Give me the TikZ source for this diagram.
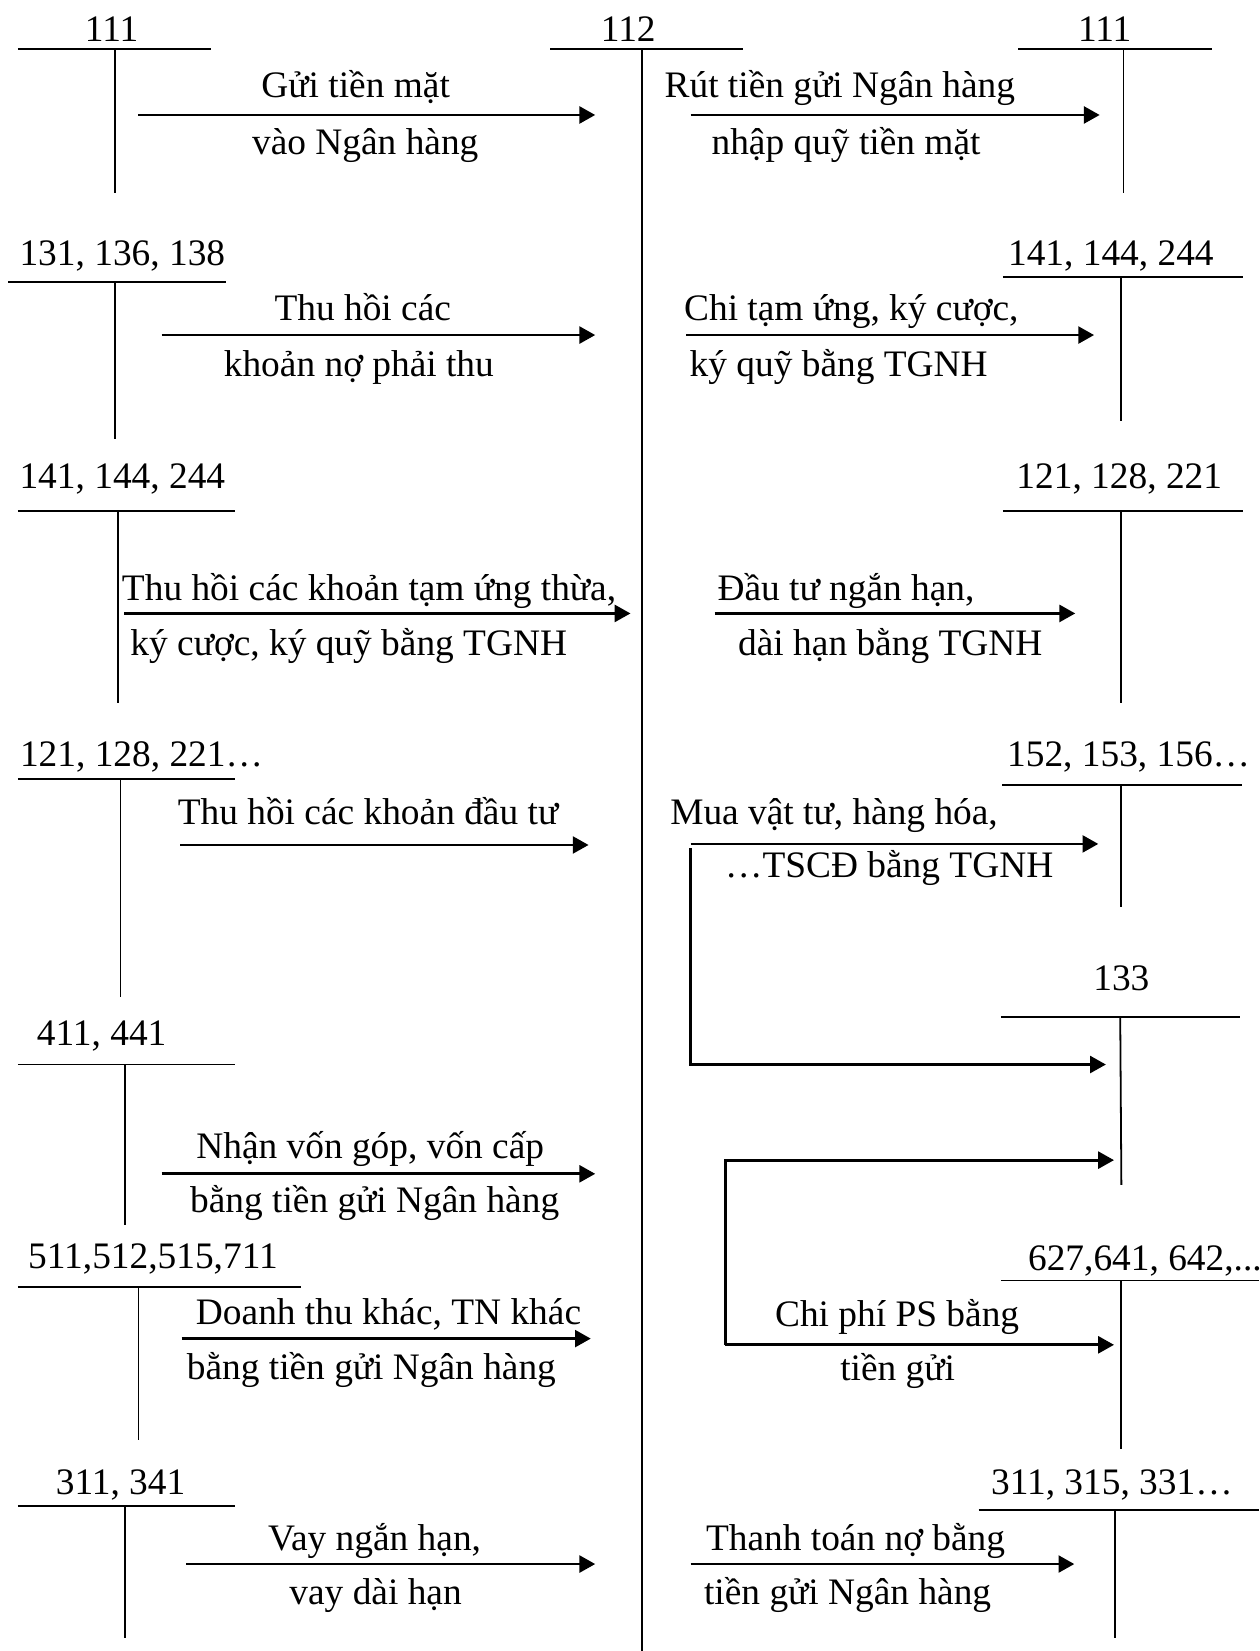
\documentclass[tikz,border=0pt]{standalone}
\usepackage{fontspec}
\setmainfont{Liberation Serif}
\usetikzlibrary{arrows.meta}
\begin{document}
\begin{tikzpicture}[x=1pt,y=-1pt,
  tline/.style={line width=1.7pt},
  mline/.style={line width=2.1pt},
  flow/.style={line width=2.7pt,-{Triangle[length=15pt,width=16pt]}},
  lbl/.style={anchor=base,inner sep=0pt,outer sep=0pt,font=\fontsize{35.5}{40}\selectfont},
  lblw/.style={lbl,anchor=base west},
]
\useasboundingbox (0,0) rectangle (1196,1568);

% ---------- account 112 (centre) ----------
\node[lbl] (m112) at (596.7,39.6) {112};
\draw[tline] (522.5,46.5) -- (705.7,46.5);
\draw[mline] (610,46.5) -- (610,1568);

% ---------- left accounts ----------
\node[lbl] (a111) at (106,39.6) {111};
\draw[tline] (17,46.5) -- (200.6,46.5);
\draw[tline] (109,46.5) -- (109,183.7);

\node[lbl] (a131) at (116.2,251.7) {131, 136, 138};
\draw[tline] (7.6,268) -- (214.2,268);
\draw[tline] (109,268) -- (109,417);

\node[lbl] (a141) at (116.2,464.4) {141, 144, 244};
\draw[tline] (17,485.5) -- (223.5,485.5);
\draw[tline] (112.4,485.5) -- (112.4,668);

\node[lblw] (a121) at (19,728) {121, 128, 221…};
\draw[tline] (17,739.5) -- (223.5,739.5);
\draw[tline] (114.5,739.5) -- (114.5,947);

\node[lbl] (a411) at (96.6,993.3) {411, 441};
\draw[tline] (17,1011) -- (223.5,1011);
\draw[tline] (118.7,1011) -- (118.7,1163);

\node[lbl] (a511) at (145.3,1204.3) {511,512,515,711};
\draw[tline] (17,1222) -- (285.4,1222);
\draw[tline] (131.5,1222) -- (131.5,1368);

\node[lbl] (a311) at (114.5,1419.2) {311, 341};
\draw[tline] (17,1430.2) -- (223.5,1430.2);
\draw[tline] (118.7,1430.2) -- (118.7,1555.2);

% ---------- right accounts ----------
\node[lbl] (b111) at (1049.1,39.6) {111};
\draw[tline] (967.2,46.5) -- (1151,46.5);
\draw[tline] (1067,46.5) -- (1067,183.7);

\node[lbl] (b141) at (1055,251.7) {141, 144, 244};
\draw[tline] (952.5,262.8) -- (1180.9,262.8);
\draw[tline] (1065,262.8) -- (1065,400);

\node[lbl] (b121) at (1063,464.4) {121, 128, 221};
\draw[tline] (952.5,485.5) -- (1180.9,485.5);
\draw[tline] (1065,485.5) -- (1065,668);

\node[lblw] (b152) at (956.5,728) {152, 153, 156…};
\draw[tline] (951.9,745.4) -- (1180,745.4);
\draw[tline] (1065,745.4) -- (1065,861.4);

\node[lbl] (b133) at (1065,940.6) {133};
\draw[tline] (950.6,965.5) -- (1178,965.5);
\draw[tline] (1063.9,965.5) -- (1065,1125.4);

\node[lblw] (b627) at (976.4,1206.2) {627,641, 642,...};
\draw[tline] (950.6,1216.1) -- (1196,1216.1);
\draw[tline] (1065,1216.1) -- (1065,1375.8);

\node[lblw] (b311) at (941.3,1419.2) {311, 315, 331…};
\draw[tline] (929.3,1434.2) -- (1196,1434.2);
\draw[tline] (1059.1,1434.2) -- (1059.1,1555.2);

% ---------- connector end points ----------
\coordinate (l1s) at (131.5,109.2);  \coordinate (l1e) at (565.3,109.2);
\coordinate (l2s) at (153.5,318.2);  \coordinate (l2e) at (565.3,318.2);
\coordinate (l3s) at (117.9,582.6);  \coordinate (l3e) at (598.8,582.6);
\coordinate (l4s) at (171,802.5);    \coordinate (l4e) at (559,802.5);
\coordinate (l5s) at (153.5,1114.8); \coordinate (l5e) at (565.3,1114.8);
\coordinate (l6s) at (172.6,1271.3); \coordinate (l6e) at (561.1,1271.3);
\coordinate (l7s) at (176.8,1485.4); \coordinate (l7e) at (565.3,1485.4);

\coordinate (r1s) at (655.8,109.2);  \coordinate (r1e) at (1044.4,109.2);
\coordinate (r2s) at (651.9,318.2);  \coordinate (r2e) at (1039.1,318.2);
\coordinate (r3s) at (678.7,582.6);  \coordinate (r3e) at (1021.2,582.6);
\coordinate (r4s) at (655.8,801.5);  \coordinate (r4e) at (1043.1,801.5);
\coordinate (r5s) at (655.8,805.4);  \coordinate (r5e) at (1050.3,1011);
\coordinate (r6s) at (689,1277.2);   \coordinate (r6e) at (1058,1101.8);
\coordinate (r7e) at (1058,1277.2);
\coordinate (r8s) at (655.8,1485.4); \coordinate (r8e) at (1020.3,1485.4);

% ---------- left connectors ----------
\draw[flow] (l1s) -- (l1e);
\node[lbl] (t1a) at (337.8,92.5) {Gửi tiền mặt};
\node[lbl] (t1b) at (346.9,146.3) {vào Ngân hàng};

\draw[flow] (l2s) -- (l2e);
\node[lbl] (t2a) at (344.5,304) {Thu hồi các};
\node[lbl] (t2b) at (340.8,357.2) {khoản nợ phải thu};

\draw[flow] (l3s) -- (l3e);
\node[lbl] (t3a) at (350.5,569.9) {Thu hồi các khoản tạm ứng thừa,};
\node[lbl] (t3b) at (331.2,622.6) {ký cược, ký quỹ bằng TGNH};

\draw[flow] (l4s) -- (l4e);
\node[lbl] (t4a) at (349.5,782.6) {Thu hồi các khoản đầu tư};

\draw[flow] (l5s) -- (l5e);
\node[lbl] (t5a) at (351.6,1099.8) {Nhận vốn góp, vốn cấp};
\node[lbl] (t5b) at (355.8,1151.8) {bằng tiền gửi Ngân hàng};

\draw[flow] (l6s) -- (l6e);
\node[lbl] (t6a) at (369,1257.5) {Doanh thu khác, TN khác};
\node[lbl] (t6b) at (352.7,1310.6) {bằng tiền gửi Ngân hàng};

\draw[flow] (l7s) -- (l7e);
\node[lbl] (t7a) at (355.8,1472.4) {Vay ngắn hạn,};
\node[lbl] (t7b) at (356.7,1523.7) {vay dài hạn};

% ---------- right connectors ----------
\draw[flow] (r1s) -- (r1e);
\node[lbl] (s1a) at (797.6,92.5) {Rút tiền gửi Ngân hàng};
\node[lbl] (s1b) at (803.5,146.3) {nhập quỹ tiền mặt};

\draw[flow] (r2s) -- (r2e);
\node[lbl] (s2a) at (808.5,304) {Chi tạm ứng, ký cược,};
\node[lbl] (s2b) at (796.5,357.2) {ký quỹ bằng TGNH};

\draw[flow] (r3s) -- (r3e);
\node[lbl] (s3a) at (803.5,569.9) {Đầu tư ngắn hạn,};
\node[lbl] (s3b) at (845.5,622.6) {dài hạn bằng TGNH};

\draw[flow] (r4s) -- (r4e);
\draw[flow] (r5s) |- (r5e);
\node[lbl] (s4a) at (792.1,782.6) {Mua vật tư, hàng hóa,};
\node[lbl] (s4b) at (844.5,833.4) {…TSCĐ bằng TGNH};

\draw[flow] (r6s) |- (r6e);
\draw[flow] (r6s) -- (r7e);
\node[lbl] (s6a) at (852,1259.5) {Chi phí PS bằng};
\node[lbl] (s6b) at (852.5,1310.7) {tiền gửi};

\draw[flow] (r8s) -- (r8e);
\node[lbl] (s8a) at (812.5,1472.4) {Thanh toán nợ bằng};
\node[lbl] (s8b) at (805,1523.7) {tiền gửi Ngân hàng};
\end{tikzpicture}
\end{document}
